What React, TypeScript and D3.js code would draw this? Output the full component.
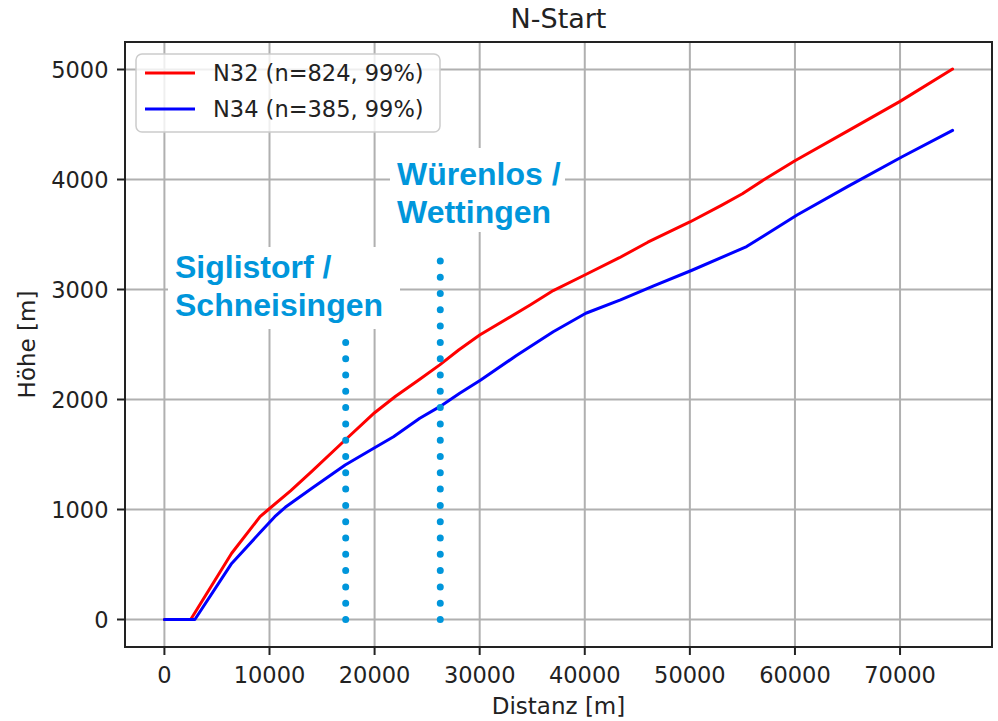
import { useMemo } from 'react'
import * as d3 from 'd3'

// Distanz [m] / Höhe [m]
const n32Dist = [0, 2500, 6400, 9100, 9900, 12000, 14000, 17200, 20000, 22000, 24300, 26200, 28000, 30000, 34800, 37000, 40000, 43300, 46000, 50000, 53000, 55000, 57000, 60000, 65000, 70000, 75000]
const n32Hoehe = [0, 0, 602, 935, 1000, 1170, 1345, 1632, 1880, 2030, 2185, 2315, 2450, 2586, 2859, 2990, 3132, 3289, 3430, 3614, 3765, 3870, 3995, 4170, 4440, 4710, 5004]

const n34Dist = [0, 2900, 6400, 9100, 10500, 11500, 12000, 14000, 17200, 20000, 21800, 24300, 26200, 28100, 30100, 33500, 37000, 40100, 43400, 46500, 50200, 55400, 60200, 65000, 70200, 75000]
const n34Hoehe = [0, 0, 510, 790, 935, 1020, 1055, 1190, 1405, 1562, 1662, 1829, 1935, 2056, 2177, 2400, 2616, 2784, 2905, 3030, 3175, 3390, 3677, 3935, 4207, 4446]

const seriesNames = ['N32 (n=824, 99%)', 'N34 (n=385, 99%)']
const seriesColors = ['#ff0000', '#0000ff']

const xTicks = [0, 10000, 20000, 30000, 40000, 50000, 60000, 70000]
const yTicks = [0, 1000, 2000, 3000, 4000, 5000]

// dotted markers: position and top height
const markerNames = [['Siglistorf /', 'Schneisingen'], ['Würenlos /', 'Wettingen']]
const markerDist = [17250, 26250]
const markerTop = [2530, 3390]

const W = 998
const H = 721
const plot = { left: 125, right: 992, top: 42, bottom: 647 }
const font = 'DejaVu Sans, sans-serif'
const labelBlue = '#0096db'
const fs = 22.5

// label boxes (pixels) for the overlay texts
const labelLayout = [
  { box: [168, 247, 232, 82], tx: 175, ty: 278 },
  { box: [390, 148, 175, 84], tx: 397, ty: 185 },
]

export default function App() {
  const x = d3.scaleLinear().domain([-3750, 78750]).range([plot.left, plot.right])
  const y = d3.scaleLinear().domain([-250, 5250]).range([plot.bottom, plot.top])

  const paths = useMemo(() => {
    const line = d3.line<[number, number]>()
      .x(d => x(d[0]))
      .y(d => y(d[1]))
    return [
      line(n32Dist.map((d, i) => [d, n32Hoehe[i]])),
      line(n34Dist.map((d, i) => [d, n34Hoehe[i]])),
    ]
  }, [])

  return (
    <svg width={W} height={H} style={{ position: 'absolute', left: 0, top: 0, background: '#fff' }} fontFamily={font}>
      {/* grid */}
      {xTicks.map(t => (
        <line key={'gx' + t} x1={x(t)} x2={x(t)} y1={plot.top} y2={plot.bottom} stroke="#b0b0b0" strokeWidth={2} />
      ))}
      {yTicks.map(t => (
        <line key={'gy' + t} x1={plot.left} x2={plot.right} y1={y(t)} y2={y(t)} stroke="#b0b0b0" strokeWidth={2} />
      ))}

      {/* label boxes hide the grid */}
      {labelLayout.map((l, i) => (
        <rect key={'lb' + i} x={l.box[0]} y={l.box[1]} width={l.box[2]} height={l.box[3]} fill="#fff" />
      ))}

      {/* data lines */}
      {paths.map((p, i) => (
        <path key={'s' + i} d={p ?? ''} fill="none" stroke={seriesColors[i]} strokeWidth={3}
          strokeLinejoin="round" strokeLinecap="round" />
      ))}

      {/* dotted markers */}
      {markerDist.map((m, i) => (
        <line key={'m' + i} x1={x(m)} x2={x(m)} y1={y(0)} y2={y(markerTop[i]) - 1}
          stroke={labelBlue} strokeWidth={7} strokeLinecap="round" strokeDasharray="0 16.3" />
      ))}

      {/* marker labels */}
      {markerNames.map((lines, i) => (
        <text key={'mt' + i} x={labelLayout[i].tx} y={labelLayout[i].ty} fill={labelBlue}
          fontFamily="Liberation Sans, Arial, sans-serif" fontWeight="bold" fontSize={32}>
          {lines.map((s, j) => (
            <tspan key={j} x={labelLayout[i].tx} dy={j === 0 ? 0 : 37.5}>{s}</tspan>
          ))}
        </text>
      ))}

      {/* axes frame */}
      <rect x={plot.left} y={plot.top} width={plot.right - plot.left} height={plot.bottom - plot.top}
        fill="none" stroke="#222" strokeWidth={2} />

      {/* x ticks */}
      {xTicks.map(t => (
        <g key={'xt' + t}>
          <line x1={x(t)} x2={x(t)} y1={plot.bottom} y2={plot.bottom + 8} stroke="#222" strokeWidth={2} />
          <text x={x(t)} y={683} textAnchor="middle" fontSize={fs} fill="#222">{t}</text>
        </g>
      ))}
      {/* y ticks */}
      {yTicks.map(t => (
        <g key={'yt' + t}>
          <line x1={plot.left - 8} x2={plot.left} y1={y(t)} y2={y(t)} stroke="#222" strokeWidth={2} />
          <text x={108.5} y={y(t)} dy="0.36em" textAnchor="end" fontSize={fs} fill="#222">{t}</text>
        </g>
      ))}

      {/* titles */}
      <text x={(plot.left + plot.right) / 2} y={28} textAnchor="middle" fontSize={27} fill="#222">N-Start</text>
      <text x={(plot.left + plot.right) / 2} y={714} textAnchor="middle" fontSize={23} fill="#222">Distanz [m]</text>
      <text transform={`translate(35,${(plot.top + plot.bottom) / 2}) rotate(-90)`} textAnchor="middle" fontSize={23} fill="#222">Höhe [m]</text>

      {/* legend */}
      <rect x={136} y={54} width={304} height={78} rx={6} fill="#fff" fillOpacity={0.8} stroke="#cccccc" strokeWidth={1.5} />
      {seriesNames.map((n, i) => (
        <g key={'lg' + i}>
          <line x1={145} x2={195} y1={73 + i * 36} y2={73 + i * 36} stroke={seriesColors[i]} strokeWidth={3} />
          <text x={213} y={73 + i * 36} dy="0.36em" fontSize={fs} fill="#222">{n}</text>
        </g>
      ))}
    </svg>
  )
}
